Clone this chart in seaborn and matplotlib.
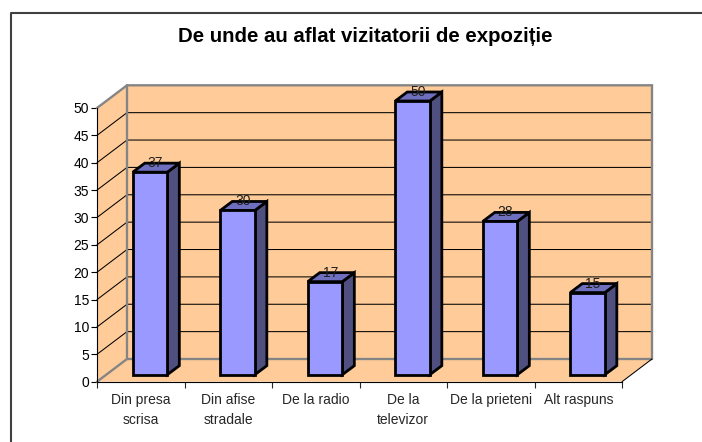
import matplotlib
matplotlib.use("Agg")
import matplotlib.pyplot as plt
import pandas as pd
import seaborn as sns
from matplotlib.lines import Line2D
from matplotlib.patches import Polygon, Rectangle
from matplotlib.transforms import Affine2D

categories = ["Din presa\nscrisa", "Din afise\nstradale", "De la radio",
              "De la\ntelevizor", "De la prieteni", "Alt raspuns"]
values = [37, 30, 17, 50, 28, 15]
y_ticks = [0, 5, 10, 15, 20, 25, 30, 35, 40, 45, 50]
title = "De unde au aflat vizitatorii de expoziție"

W, H = 702, 442
# front plane of the 3d box, in pixels
LEFT, RIGHT, BOTTOM, TOP = 97, 622, 381.7, 108
X_UNIT = (RIGHT - LEFT) / len(categories)
Y_UNIT = (BOTTOM - TOP) / 50
# box depth and bar depth, converted to data units
DX = 30 / X_UNIT
DY = 22.7 / Y_UNIT
BAR_DX = 12 / X_UNIT
BAR_DY = 9 / Y_UNIT

sns.set_theme(style="ticks")
plt.rcParams["font.family"] = ["Liberation Sans", "DejaVu Sans"]

fig = plt.figure(figsize=(W / 100, H / 100), dpi=100)
ax = fig.add_axes([LEFT / W, 1 - BOTTOM / H, (RIGHT - LEFT) / W, (BOTTOM - TOP) / H])

df = pd.DataFrame({"cat": categories, "val": values})
sns.barplot(data=df, x="cat", y="val", color="#9999FF", saturation=1, width=0.395,
            edgecolor="black", linewidth=2, ax=ax, zorder=5, clip_on=False)

x0, x1 = -0.5, len(categories) - 0.5
ax.set_xlim(x0, x1)
ax.set_ylim(0, 50)

# walls and floor
wall = "#FFCC99"
gray = "#858585"
ax.add_patch(Rectangle((x0 + DX, DY), x1 - x0, 50, fc=wall, ec="none", zorder=1, clip_on=False))
ax.add_patch(Polygon([(x0, 0), (x0 + DX, DY), (x0 + DX, 50 + DY), (x0, 50)],
                     fc=wall, ec="none", zorder=1, clip_on=False))
ax.add_patch(Polygon([(x0, 0), (x1, 0), (x1 + DX, DY), (x0 + DX, DY)],
                     fc=wall, ec="none", zorder=1, clip_on=False))

# gridlines on the back wall and the left wall
for v in y_ticks[1:-1]:
    ax.plot([x0, x0 + DX, x1 + DX], [v, v + DY, v + DY], color="black", lw=0.75,
            zorder=2, clip_on=False)

# gray edges of the box
ax.plot([x0, x0 + DX, x0 + DX], [0, DY, 50 + DY], color=gray, lw=1.7, zorder=3, clip_on=False)
ax.plot([x0 + DX, x1 + DX], [DY, DY], color=gray, lw=1.7, zorder=3, clip_on=False)
ax.plot([x0, x0 + DX, x1 + DX, x1 + DX], [50, 50 + DY, 50 + DY, DY], color=gray, lw=1.7,
        zorder=3, clip_on=False, solid_joinstyle="miter")
ax.plot([x1, x1 + DX], [0, DY], color="black", lw=0.75, zorder=3, clip_on=False)

# shift the bars back onto the floor, add side and top faces
shift = ax.transData + Affine2D().translate(9.3, 7)
for bar, val in zip(ax.patches[:len(values)], values):
    bar.set_transform(shift)
    xa, xb = bar.get_x(), bar.get_x() + bar.get_width()
    side = [(xb, 0), (xb + BAR_DX, BAR_DY), (xb + BAR_DX, val + BAR_DY), (xb, val)]
    top = [(xa, val), (xb, val), (xb + BAR_DX, val + BAR_DY), (xa + BAR_DX, val + BAR_DY)]
    ax.add_patch(Polygon(side, fc="#4F4F80", ec="black", lw=2, transform=shift, zorder=4, clip_on=False))
    ax.add_patch(Polygon(top, fc="#6F6FBF", ec="black", lw=2, transform=shift, zorder=4, clip_on=False))
    ax.text((xa + xb) / 2, val, str(val), transform=ax.transData + Affine2D().translate(14.5, 16),
            ha="center", va="center", fontsize=10, color="#202020", zorder=6)

# axes
sns.despine(ax=ax, top=True, right=True)
for s in ("left", "bottom"):
    ax.spines[s].set_linewidth(0.8)
    ax.spines[s].set_color("black")
    ax.spines[s].set_zorder(7)
ax.set_xlabel("")
ax.set_ylabel("")
ax.set_yticks(y_ticks)
ax.tick_params(axis="y", length=4.5, width=0.8, labelsize=10, pad=1, colors="black")
ax.set_xticks([x0 + i for i in range(len(categories) + 1)])
ax.set_xticklabels([])
ax.set_xticks(range(len(categories)), categories, minor=True)
ax.tick_params(axis="x", which="major", length=4.5, width=0.8)
ax.tick_params(axis="x", which="minor", length=0, labelsize=10, pad=8)
for lab in ax.get_xticklabels(minor=True):
    lab.set_linespacing(1.6)

fig.text(365 / W, 1 - 37 / H, title, ha="center", va="center", fontsize=14.7, fontweight="bold", color="black")

# chart border, cut by the image on the right and bottom
fig.add_artist(Line2D([10.5 / W, 10.5 / W, 1], [0, 1 - 12.5 / H, 1 - 12.5 / H], color="#404040", lw=1.5))

fig.savefig("out.png", dpi=100)
